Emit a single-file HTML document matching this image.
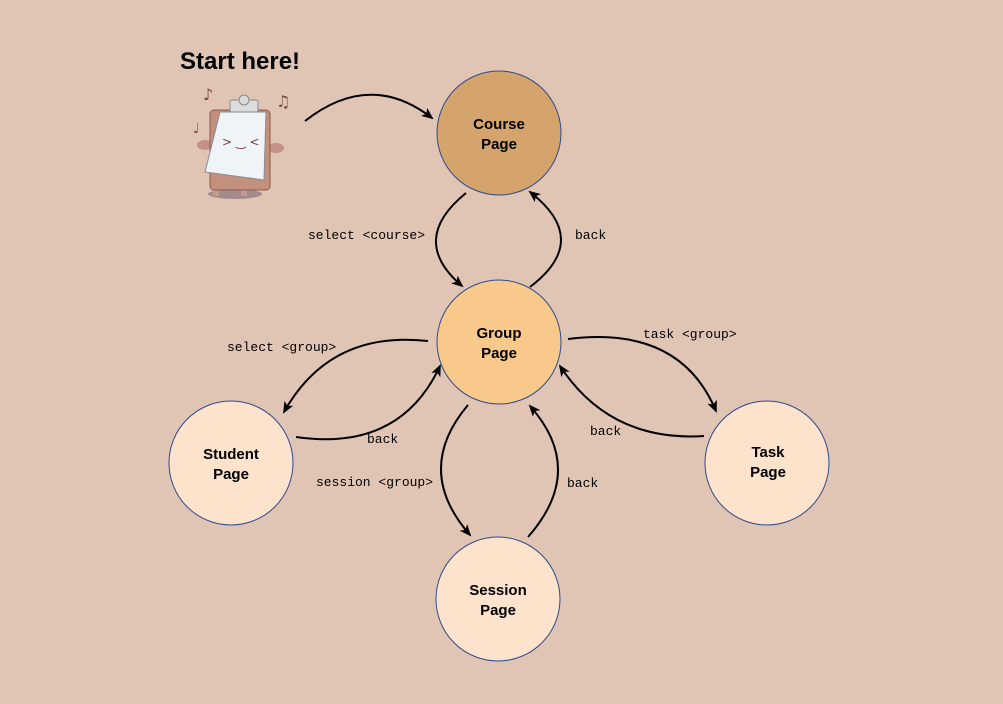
<!DOCTYPE html>
<html><head><style>
body{margin:0;background:#e0c5b5;}
svg{display:block}
.n{font-family:"Liberation Sans",sans-serif;font-weight:bold;font-size:15px;text-anchor:middle;fill:#000}
.l{font-family:"Liberation Mono",monospace;font-size:13px;fill:#000}
</style></head><body>
<svg width="1003" height="704" viewBox="0 0 1003 704" xmlns="http://www.w3.org/2000/svg">
<defs><marker id="a" markerWidth="12" markerHeight="10" refX="10" refY="5" orient="auto" markerUnits="userSpaceOnUse"><path d="M0,0 L12,5 L0,10 L3,5 Z" fill="#000"/></marker></defs>
<rect width="1003" height="704" fill="#e0c5b5"/>
<text x="180" y="69" font-family="Liberation Sans,sans-serif" font-weight="bold" font-size="24">Start here!</text>
<!-- clipboard -->
<ellipse cx="235" cy="194" rx="27" ry="5" fill="#a58a8c"/>
<rect x="213" y="188" width="6" height="8" fill="#c49a8c"/><rect x="241" y="188" width="6" height="8" fill="#c49a8c"/>
<ellipse cx="205" cy="145" rx="8" ry="5" fill="#c4908a"/><ellipse cx="276" cy="148" rx="8" ry="5" fill="#c4908a"/>
<rect x="210" y="110" width="60" height="80" rx="4" fill="#c4907e" stroke="#8a5a50"/>
<path d="M220,112 L266,112 L264,180 L205,172 Z" fill="#eef4f8" stroke="#8a8a90"/>
<rect x="230" y="100" width="28" height="12" rx="2" fill="#dcdcdc" stroke="#888"/>
<circle cx="244" cy="100" r="5" fill="#dcdcdc" stroke="#888"/>
<text x="222" y="146" font-size="12" fill="#7a3b3b" font-family="DejaVu Sans">&gt; ‿ &lt;</text>
<text x="203" y="100" font-size="16" fill="#7a4a40" font-family="DejaVu Sans">♪</text>
<text x="276" y="107" font-size="16" fill="#7a4a40" font-family="DejaVu Sans">♫</text>
<text x="193" y="133" font-size="14" fill="#7a4a40" font-family="DejaVu Sans">♩</text>
<!-- nodes -->
<g stroke="#2f4a8c" stroke-width="1">
<circle cx="499" cy="133" r="62" fill="#d4a46c"/>
<circle cx="499" cy="342" r="62" fill="#f8c98b"/>
<circle cx="231" cy="463" r="62" fill="#fde3cc"/>
<circle cx="767" cy="463" r="62" fill="#fde3cc"/>
<circle cx="498" cy="599" r="62" fill="#fde3cc"/>
</g>
<text class="n" x="499" y="129">Course</text><text class="n" x="499" y="149">Page</text>
<text class="n" x="499" y="338">Group</text><text class="n" x="499" y="358">Page</text>
<text class="n" x="231" y="459">Student</text><text class="n" x="231" y="479">Page</text>
<text class="n" x="768" y="457">Task</text><text class="n" x="768" y="477">Page</text>
<text class="n" x="498" y="595">Session</text><text class="n" x="498" y="615">Page</text>
<!-- arrows -->
<g fill="none" stroke="#000" stroke-width="2" marker-end="url(#a)">
<path d="M305,121 Q370,70 432,118"/>
<path d="M466,193 Q408,240 462,286"/>
<path d="M530,287 Q592,240 530,192"/>
<path d="M428,341 Q330,330 284,412"/>
<path d="M296,437 Q400,452 440,366"/>
<path d="M568,339 Q680,325 716,411"/>
<path d="M704,436 Q610,442 560,366"/>
<path d="M468,405 Q413,470 470,535"/>
<path d="M528,537 Q587,470 530,406"/>
</g>
<text class="l" x="308" y="239">select &lt;course&gt;</text>
<text class="l" x="575" y="239">back</text>
<text class="l" x="227" y="351">select &lt;group&gt;</text>
<text class="l" x="643" y="338">task &lt;group&gt;</text>
<text class="l" x="367" y="443">back</text>
<text class="l" x="590" y="435">back</text>
<text class="l" x="316" y="486">session &lt;group&gt;</text>
<text class="l" x="567" y="487">back</text>
</svg>
</body></html>
